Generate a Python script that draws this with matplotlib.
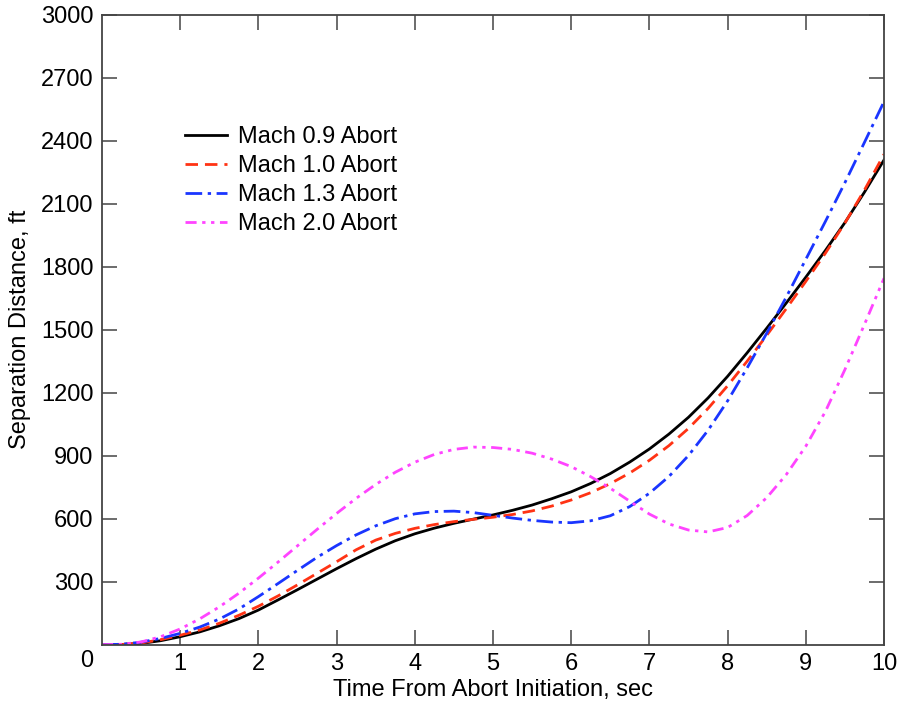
import matplotlib
matplotlib.use("Agg")
import matplotlib.pyplot as plt

t = [0, 0.25, 0.5, 0.75, 1, 1.25, 1.5, 1.75, 2, 2.25, 2.5, 2.75, 3, 3.25, 3.5, 3.75,
     4, 4.25, 4.5, 4.75, 5, 5.25, 5.5, 5.75, 6, 6.25, 6.5, 6.75, 7, 7.25, 7.5, 7.75,
     8, 8.25, 8.5, 8.75, 9, 9.25, 9.5, 9.75, 10]

mach09 = [0, 1, 6, 19, 38, 61, 90, 124, 165, 213, 262, 312, 362, 410, 455, 495,
          528, 555, 578, 598, 618, 640, 665, 695, 728, 768, 815, 870, 932, 1003, 1083, 1175,
          1278, 1390, 1507, 1627, 1750, 1877, 2010, 2155, 2308]
mach10 = [0, 1, 8, 24, 45, 70, 102, 140, 183, 232, 285, 340, 395, 452, 498, 530,
          554, 572, 586, 597, 607, 620, 637, 660, 689, 724, 767, 818, 878, 948, 1030, 1125,
          1233, 1350, 1473, 1600, 1730, 1864, 2008, 2165, 2335]
mach13 = [0, 2, 12, 30, 54, 84, 122, 170, 229, 291, 354, 416, 472, 523, 566, 600,
          623, 634, 636, 629, 616, 603, 592, 584, 581, 590, 614, 658, 721, 801, 901, 1021,
          1161, 1318, 1483, 1655, 1835, 2015, 2200, 2392, 2586]
mach20 = [0, 2, 13, 38, 75, 123, 180, 245, 317, 393, 471, 549, 625, 697, 763, 821,
          869, 906, 930, 941, 939, 930, 912, 884, 848, 800, 745, 683, 622, 575, 546, 537,
          558, 615, 700, 810, 945, 1110, 1310, 1525, 1745]

labels = ["Mach 0.9 Abort", "Mach 1.0 Abort", "Mach 1.3 Abort", "Mach 2.0 Abort"]
xticks = [1, 2, 3, 4, 5, 6, 7, 8, 9, 10]
yticks = [300, 600, 900, 1200, 1500, 1800, 2100, 2400, 2700, 3000]

plt.rcParams['font.family'] = ['Liberation Sans', 'DejaVu Sans']

fig = plt.figure(figsize=(8.99, 7.03), dpi=100)
ax = fig.add_axes([102/899, (703-644.7)/703, 782/899, 630/703])

lw = 2.0
ax.plot(t, mach09, color='black', lw=lw, linestyle='-', label=labels[0])
ax.plot(t, mach10, color='#ff3314', lw=lw, linestyle=(0, (4.5, 2.5)), label=labels[1])
ax.plot(t, mach13, color='#1a35ff', lw=lw, linestyle=(0, (6, 2, 1.2, 2)), label=labels[2])
ax.plot(t, mach20, color='#ff44ff', lw=lw, linestyle=(0, (4, 2, 1.2, 2, 1.2, 2)), label=labels[3])

ax.set_xlim(0, 10)
ax.set_ylim(0, 3000)
ax.set_xticks(xticks)
ax.set_yticks(yticks)
ax.set_xticklabels([str(v) for v in xticks])
ax.set_yticklabels([str(v) for v in yticks])

for s in ax.spines.values():
    s.set_color('#444444')
    s.set_linewidth(1.3)
ax.tick_params(axis='both', which='major', direction='in', length=11, width=1.1,
               color='#444444', top=True, right=True, labelsize=17, pad=6)
ax.tick_params(axis='x', pad=6)

ax.annotate("0", xy=(0, 0), xycoords='data', xytext=(-6, -4), textcoords='offset points',
            ha='right', va='top', fontsize=17)

ax.set_xlabel("Time From Abort Initiation, sec", fontsize=17, labelpad=3)
ax.set_ylabel("Separation Distance, ft", fontsize=17, labelpad=7)

ax.legend(loc='upper left', bbox_to_anchor=(0.094, 0.838), frameon=False, fontsize=17,
          handlelength=1.8, handletextpad=0.45, labelspacing=0.3, borderaxespad=0)

fig.savefig("out.png", dpi=100)
